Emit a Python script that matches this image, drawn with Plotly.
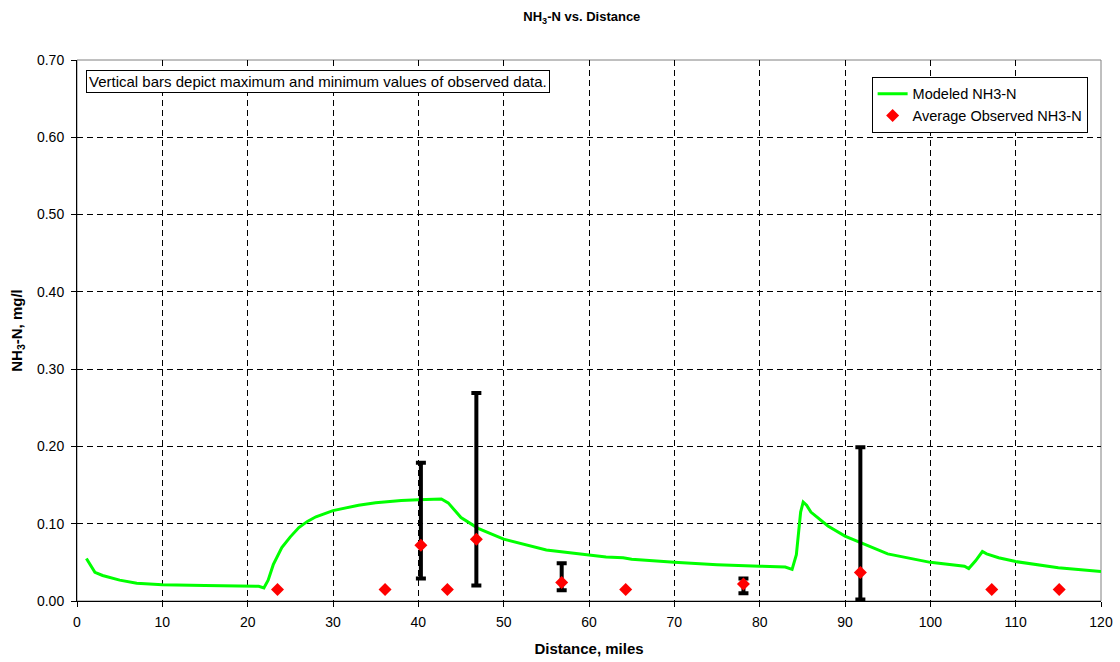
import plotly.graph_objects as go

# Modeled NH3-N along the river
model_dist = [1.1, 2.1, 3, 5, 7, 10, 15, 20, 21.3, 21.9, 22.4, 23.0, 24, 25, 26, 27, 28,
              30, 33, 35, 38, 40, 42.7, 43.5, 45, 47, 50, 55, 60, 62, 64, 65, 70, 75,
              80, 83, 83.8, 84.3, 84.8, 85.1, 85.5, 86, 88, 90, 95, 100, 104, 104.5,
              105.3, 106.1, 106.6, 108, 110, 115, 120]
model_nh3 = [0.055, 0.037, 0.033, 0.027, 0.023, 0.021, 0.020, 0.019, 0.019, 0.017, 0.027,
             0.047, 0.069, 0.083, 0.095, 0.103, 0.109, 0.117, 0.124, 0.127, 0.130, 0.131,
             0.132, 0.127, 0.108, 0.094, 0.080, 0.066, 0.059, 0.057, 0.056, 0.054, 0.050,
             0.047, 0.045, 0.044, 0.041, 0.060, 0.115, 0.128, 0.124, 0.115, 0.097, 0.084,
             0.061, 0.050, 0.045, 0.042, 0.052, 0.064, 0.061, 0.056, 0.051, 0.043, 0.038]

# Average observed NH3-N
obs_dist = [23.5, 36.1, 40.3, 43.4, 46.8, 56.8, 64.3, 78.1, 91.8, 107.2, 115.1]
obs_avg = [0.015, 0.015, 0.072, 0.015, 0.080, 0.024, 0.015, 0.022, 0.037, 0.015, 0.015]

# Max / min of observed data (stations with range bars)
bar_dist = [40.3, 46.8, 56.8, 78.1, 91.8]
bar_avg = [0.072, 0.080, 0.024, 0.022, 0.037]
bar_max = [0.179, 0.269, 0.049, 0.029, 0.199]
bar_min = [0.029, 0.020, 0.014, 0.010, 0.002]

x_ticks = list(range(0, 121, 10))
y_ticks = [0.0, 0.1, 0.2, 0.3, 0.4, 0.5, 0.6, 0.7]

FONT = "Arial, 'Liberation Sans', sans-serif"

fig = go.Figure()

fig.add_trace(go.Scatter(
    x=model_dist, y=model_nh3, mode="lines", name="Modeled NH3-N",
    line=dict(color="#00FF00", width=3)))

fig.add_trace(go.Scatter(
    x=bar_dist, y=bar_avg, mode="markers", showlegend=False, hoverinfo="skip",
    marker=dict(size=1, color="rgba(0,0,0,0)"),
    error_y=dict(type="data", symmetric=False,
                 array=[mx - a for mx, a in zip(bar_max, bar_avg)],
                 arrayminus=[a - mn for mn, a in zip(bar_min, bar_avg)],
                 color="black", thickness=4, width=5)))

fig.add_trace(go.Scatter(
    x=obs_dist, y=obs_avg, mode="markers", name="Average Observed NH3-N",
    marker=dict(symbol="diamond", size=10, color="#FF0000")))

fig.add_shape(type="rect", xref="paper", yref="paper", x0=0, y0=0, x1=1, y1=1,
              line=dict(color="#808080", width=1), layer="below")

fig.add_annotation(
    xref="paper", yref="paper", x=0.009, y=0.982, xanchor="left", yanchor="top",
    text="Vertical bars depict maximum and minimum values of observed data.",
    showarrow=False, font=dict(family=FONT, size=15, color="black"),
    bordercolor="black", borderwidth=1, borderpad=2, bgcolor="white")

fig.update_layout(
    width=1120, height=662,
    margin=dict(l=77, r=19, t=60, b=61),
    paper_bgcolor="white", plot_bgcolor="white",
    font=dict(family=FONT, size=14, color="black"),
    title=dict(text="<b>NH<sub>3</sub>-N vs. Distance</b>", x=0.493, xref="paper",
               xanchor="center", y=0.982, yanchor="top",
               font=dict(family=FONT, size=13, color="black")),
    showlegend=True,
    legend=dict(x=0.776, y=0.969, xanchor="left", yanchor="top",
                bordercolor="black", borderwidth=1, bgcolor="white",
                font=dict(family=FONT, size=14.5, color="black"),
                tracegroupgap=0, itemwidth=30),
    xaxis=dict(range=[0, 120], tickvals=x_ticks, ticktext=[str(v) for v in x_ticks],
               showline=True, linecolor="black", linewidth=1, automargin=False,
               ticks="outside", ticklen=5, tickcolor="black", ticklabelstandoff=3,
               tickfont=dict(family=FONT, size=14, color="black"),
               showgrid=True, gridcolor="black", gridwidth=1, griddash="6px,4px",
               zeroline=False,
               title=dict(text="<b>Distance, miles</b>", standoff=14,
                          font=dict(family=FONT, size=15, color="black"))),
    yaxis=dict(range=[0, 0.7], tickvals=y_ticks, ticktext=[f"{v:.2f}" for v in y_ticks],
               showline=True, linecolor="black", linewidth=1, automargin=False,
               ticks="outside", ticklen=5, tickcolor="black", ticklabelstandoff=4,
               tickfont=dict(family=FONT, size=14, color="black"),
               showgrid=True, gridcolor="black", gridwidth=1, griddash="6px,4px",
               zeroline=False,
               title=dict(text="<b>NH<sub>3</sub>-N, mg/l</b>", standoff=10,
                          font=dict(family=FONT, size=15, color="black"))),
)

fig.write_html("out.html")
